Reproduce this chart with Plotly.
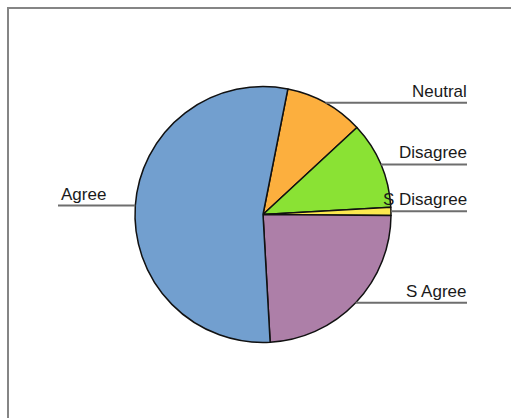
import math
import plotly.graph_objects as go

# Survey responses (percent of respondents), listed clockwise from the top
labels = ["Neutral", "Disagree", "S Disagree", "S Agree", "Agree"]
values = [10, 11, 1, 24, 54]
colors = ["#fcaf3e", "#8ae234", "#fce94f", "#ad7fa8", "#729fcf"]
start_angle = 11.2  # degrees clockwise from 12 o'clock

W, H = 511, 418
cx, cy, r = 263.0, 214.5, 128.0   # pie centre / radius in pixels
right_edge, left_edge = 467.0, 58.0


def px(x):
    return x / W


def py(y):
    return 1 - y / H


fig = go.Figure(
    go.Pie(
        labels=labels,
        values=values,
        sort=False,
        direction="clockwise",
        rotation=start_angle,
        marker=dict(colors=colors, line=dict(color="#111111", width=1.5)),
        textinfo="none",
        hoverinfo="label+value",
        showlegend=False,
        domain=dict(x=[px(cx - r), px(cx + r)], y=[py(cy + r), py(cy - r)]),
    )
)

shapes = [
    # frame around the chart area
    dict(type="rect", xref="paper", yref="paper",
         x0=px(8), y0=py(8), x1=px(W + 20), y1=py(H + 20),
         line=dict(color="#858585", width=2), fillcolor="rgba(0,0,0,0)"),
]
annotations = []

total = sum(values)
angle = start_angle
for lab, val in zip(labels, values):
    sweep = 360.0 * val / total
    mid = math.radians(angle + sweep / 2)
    angle += sweep
    ex = cx + r * math.sin(mid)
    ey = cy - r * math.cos(mid)
    if math.sin(mid) >= 0:
        x0, x1 = ex, right_edge
        ax, anchor = right_edge + 0.5, "right"
    else:
        x0, x1 = left_edge, ex
        ax, anchor = left_edge + 1.5, "left"
    shapes.append(dict(type="line", xref="paper", yref="paper",
                       x0=px(x0), x1=px(x1), y0=py(ey), y1=py(ey),
                       line=dict(color="#6e6e6e", width=2)))
    annotations.append(dict(text=lab, xref="paper", yref="paper",
                            x=px(ax), y=py(ey - 1), xanchor=anchor, yanchor="bottom",
                            showarrow=False, borderpad=0,
                            font=dict(family="Liberation Sans, Arial, sans-serif",
                                      size=17, color="#1a1a1a")))

fig.update_layout(
    width=W, height=H,
    margin=dict(l=0, r=0, t=0, b=0),
    paper_bgcolor="white", plot_bgcolor="white",
    shapes=shapes, annotations=annotations,
)

fig.write_html("out.html")
